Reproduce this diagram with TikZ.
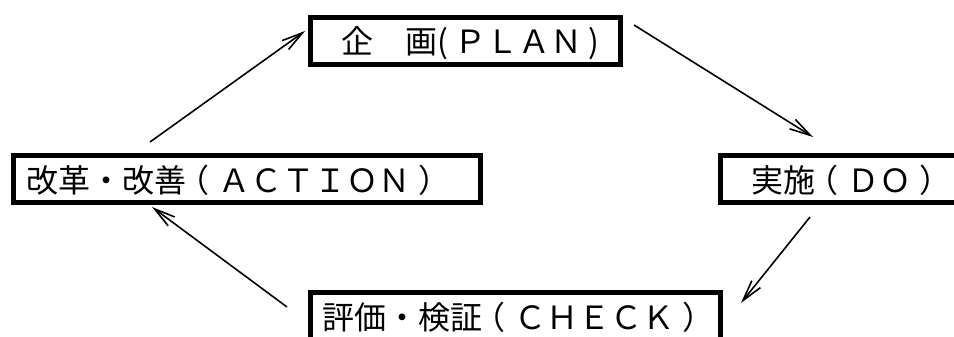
\documentclass[tikz,border=0pt]{standalone}
\usepackage{fontspec}
\newfontfamily\jpfont{Noto Sans CJK JP}
\usetikzlibrary{arrows.meta}
\newcommand\myLP{\makebox[1em][l]{\hspace{-0.27em}（}}
\newcommand\myRP{\makebox[1em][l]{\hspace{0.25em}）}}
\begin{document}
\begin{tikzpicture}[x=1pt,y=-1pt,
  box/.style={draw, line width=5pt, inner sep=0pt},
  lbl/.style={font=\jpfont\fontsize{32pt}{32pt}\selectfont, inner sep=0pt, anchor=base west},
  arr/.style={line width=1.6pt, -{Straight Barb[length=21pt,width=11pt]}}
]
\useasboundingbox (0,0) rectangle (954,337);
\clip (0,0) rectangle (954,337);
% boxes
\node[box, minimum width=310pt, minimum height=47pt] (plan) at (465.5,41) {};
\node[box, minimum width=467.5pt, minimum height=47.5pt] (action) at (246.75,178.75) {};
\node[box, minimum width=250pt, minimum height=47.5pt] (do) at (845.5,178.75) {};
\node[box, minimum width=410pt, minimum height=47.5pt] (check) at (515.5,316.25) {};
% texts
\node[lbl] (plantext) at (341,54) {企　画(\hspace{6pt}ＰＬＡＮ\hspace{6pt})};
\node[lbl] (actiontext) at (26,192) {改革・改善\myLP ＡＣＴＩＯＮ\myRP};
\node[lbl] (dotext) at (751,192) {実施\myLP ＤＯ\myRP};
\node[lbl] (checktext) at (322,329) {評価・検証\myLP ＣＨＥＣＫ\myRP};
% arrow end points
\coordinate (a1s) at (150,142); \coordinate (a1e) at (305,31);
\coordinate (a2s) at (634,25);  \coordinate (a2e) at (813,137);
\coordinate (a3s) at (810,217); \coordinate (a3e) at (741,303);
\coordinate (a4s) at (287,307); \coordinate (a4e) at (152,207);
\draw[arr] (a1s) -- (a1e);
\draw[arr] (a2s) -- (a2e);
\draw[arr] (a3s) -- (a3e);
\draw[arr] (a4s) -- (a4e);
\end{tikzpicture}
\end{document}
